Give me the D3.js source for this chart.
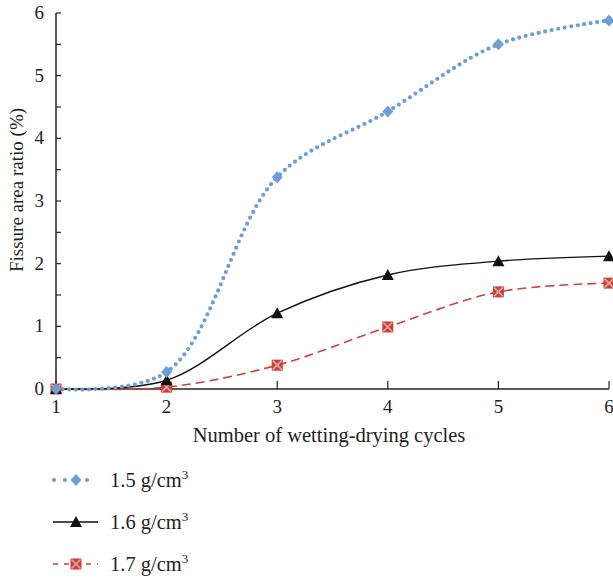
<!DOCTYPE html>
<html lang="en">
<head>
<meta charset="utf-8">
<title>Fissure area ratio</title>
<script src="https://d3js.org/d3.v7.min.js"></script>
<style>
  body { margin: 0; background: #fff; }
  svg text { font-family: "Liberation Serif", "DejaVu Serif", serif; fill: #222; }
</style>
</head>
<body>
<div id="chart"></div>
<script>
// data
var cycles = [1, 2, 3, 4, 5, 6];
var s15 = [0, 0.27, 3.38, 4.43, 5.50, 5.88];
var s16 = [0, 0.14, 1.21, 1.82, 2.04, 2.12];
var s17 = [0, 0.03, 0.38, 0.99, 1.55, 1.69];
var seriesNames = ["1.5 g/cm", "1.6 g/cm", "1.7 g/cm"];
var yTicks = [0, 1, 2, 3, 4, 5, 6];

var width = 613, height = 578;
var svg = d3.select("#chart").append("svg")
  .attr("width", width).attr("height", height);

var x = d3.scaleLinear().domain([1, 6]).range([56, 609]);
var y = d3.scaleLinear().domain([0, 6]).range([389, 13]);

// axes
var g = svg.append("g");
g.append("line").attr("x1", x(1)).attr("x2", x(1)).attr("y1", y(6)).attr("y2", y(0))
  .attr("stroke", "#222").attr("stroke-width", 1.5);
g.append("line").attr("x1", x(1)).attr("x2", x(6)).attr("y1", y(0)).attr("y2", y(0))
  .attr("stroke", "#222").attr("stroke-width", 1.5);

// y ticks (inside), with minor ones at halves
d3.range(0, 6.01, 0.5).forEach(function(v) {
  g.append("line").attr("x1", x(1)).attr("x2", x(1) + 5)
    .attr("y1", y(v)).attr("y2", y(v))
    .attr("stroke", "#222").attr("stroke-width", 1.2);
});
g.selectAll("text.yt").data(yTicks).enter().append("text")
  .attr("class", "yt")
  .attr("x", x(1) - 12).attr("y", function(d) { return y(d) + 6; })
  .attr("text-anchor", "end").style("font-size", "19px")
  .text(function(d) { return d; });

// x ticks (pointing up)
cycles.forEach(function(c) {
  g.append("line").attr("x1", x(c)).attr("x2", x(c))
    .attr("y1", y(0)).attr("y2", y(0) - 8)
    .attr("stroke", "#222").attr("stroke-width", 1.2);
});
g.selectAll("text.xt").data(cycles).enter().append("text")
  .attr("class", "xt")
  .attr("x", function(d) { return x(d); }).attr("y", 413)
  .attr("text-anchor", "middle").style("font-size", "19px")
  .text(function(d) { return d; });

svg.append("text").attr("x", 329).attr("y", 442)
  .attr("text-anchor", "middle").style("font-size", "20.5px")
  .text("Number of wetting-drying cycles");
svg.append("text")
  .attr("transform", "translate(23,190) rotate(-90)")
  .attr("text-anchor", "middle").style("font-size", "19px")
  .text("Fissure area ratio (%)");

// centripetal catmull-rom: smooth like the original, less overshoot
var line = d3.line()
  .x(function(d, i) { return x(cycles[i]); })
  .y(function(d) { return y(d); })
  .curve(d3.curveCatmullRom.alpha(0.5));

var blue = "#6a9fd9", red = "#d2403a";

// lines
svg.append("path").attr("d", line(s17)).attr("fill", "none")
  .attr("stroke", red).attr("stroke-width", 1.6).attr("stroke-dasharray", "9,5");
svg.append("path").attr("d", line(s16)).attr("fill", "none")
  .attr("stroke", "#111").attr("stroke-width", 1.4);
svg.append("path").attr("d", line(s15)).attr("fill", "none")
  .attr("stroke", blue).attr("stroke-width", 4.2)
  .attr("stroke-linecap", "round").attr("stroke-dasharray", "0,6.6");

// marker helpers
function diamond(sel, cx, cy) {
  sel.append("path")
    .attr("d", "M" + cx + "," + (cy - 6) + "L" + (cx + 5.5) + "," + cy + "L" + cx + "," + (cy + 6) + "L" + (cx - 5.5) + "," + cy + "Z")
    .attr("fill", blue);
}
function triangle(sel, cx, cy) {
  sel.append("path")
    .attr("d", "M" + cx + "," + (cy - 6) + "L" + (cx + 6) + "," + (cy + 5) + "L" + (cx - 6) + "," + (cy + 5) + "Z")
    .attr("fill", "#111");
}
function crossBox(sel, cx, cy) {
  sel.append("rect").attr("x", cx - 5.5).attr("y", cy - 5.5).attr("width", 11).attr("height", 11)
    .attr("fill", "#e0362c");
  sel.append("path")
    .attr("d", "M" + (cx - 4.5) + "," + (cy - 4.5) + "L" + (cx + 4.5) + "," + (cy + 4.5) +
      "M" + (cx + 4.5) + "," + (cy - 4.5) + "L" + (cx - 4.5) + "," + (cy + 4.5))
    .attr("stroke", "#b8b8b8").attr("stroke-width", 1.6);
}

var mk = svg.append("g");
s17.forEach(function(v, i) { crossBox(mk, x(cycles[i]), y(v)); });
s16.forEach(function(v, i) { triangle(mk, x(cycles[i]), y(v)); });
s15.forEach(function(v, i) { diamond(mk, x(cycles[i]), y(v)); });

// legend
var legY = [480, 522, 564];
var lg = svg.append("g");
lg.append("line").attr("x1", 54).attr("x2", 98).attr("y1", legY[0]).attr("y2", legY[0])
  .attr("stroke", blue).attr("stroke-width", 4.2).attr("stroke-linecap", "round")
  .attr("stroke-dasharray", "0,11");
diamond(lg, 76, legY[0]);
lg.append("line").attr("x1", 53).attr("x2", 98).attr("y1", legY[1]).attr("y2", legY[1])
  .attr("stroke", "#111").attr("stroke-width", 1.4);
triangle(lg, 76, legY[1]);
lg.append("line").attr("x1", 53).attr("x2", 98).attr("y1", legY[2]).attr("y2", legY[2])
  .attr("stroke", red).attr("stroke-width", 1.6).attr("stroke-dasharray", "5,6");
crossBox(lg, 76, legY[2]);

seriesNames.forEach(function(n, i) {
  var t = lg.append("text").attr("x", 110).attr("y", legY[i] + 7).style("font-size", "20.5px");
  t.append("tspan").text(n);
  t.append("tspan").attr("dy", -8).style("font-size", "13px").text("3");
});
</script>
</body>
</html>
